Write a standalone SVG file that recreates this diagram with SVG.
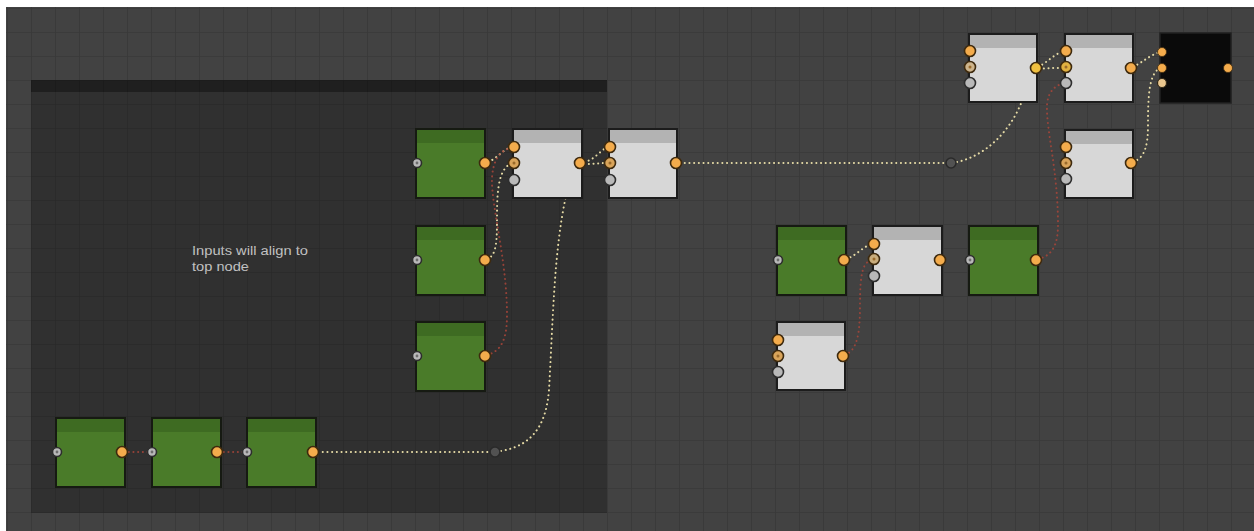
<svg xmlns="http://www.w3.org/2000/svg" width="1254" height="531" viewBox="0 0 1254 531">
  <defs>
    <pattern id="grid" x="7" y="8" width="24" height="24" patternUnits="userSpaceOnUse">
      <path d="M0,0 H24 M0,0 V24" fill="none" stroke="#000" stroke-opacity="0.14" stroke-width="1.6"/>
    </pattern>
    <style>
      .canvas { fill: #424242; }
      .frame-body { fill: #303030; }
      .frame-head { fill: #1f1f1f; }
      .note { font-family: "Liberation Sans", Arial, sans-serif; font-size: 13px; fill: #c2c2c2; }
      .wire { fill: none; stroke-width: 2; stroke-linecap: round; stroke-dasharray: 0.1 4.6; }
      .cream { stroke: #e6dba6; }
      .red { stroke: #a8453a; stroke-opacity: 0.85; }
      .green .body { fill: #4a7b29; stroke: #161a12; stroke-width: 2; }
      .green .head { fill: #3e6b22; }
      .light .body { fill: #d7d7d7; stroke: #1c1c1c; stroke-width: 2; }
      .light .head { fill: #b3b3b3; }
      .dark .body { fill: #0a0a0a; stroke: #222; stroke-width: 1.5; }
      .p-out { fill: #f4ac4c; stroke: #3e2a0e; stroke-width: 1.6; }
      .p-mid { fill: #d9a45a; stroke: #3e2a0e; stroke-width: 1.6; }
      .p-in { fill: #b9b9b9; stroke: #2e2e2e; stroke-width: 1.6; }
      .p-pale { fill: #e9c68e; stroke: #2e2616; stroke-width: 1.2; }
      .pip { fill: #6e6e6e; }
      .pip-o { fill: #9a6a2a; }
      .reroute { fill: #525252; stroke: #2a2a2a; stroke-width: 1.6; }
    </style>
  </defs>

  <!-- page edge and canvas -->
  <rect x="0" y="0" width="1254" height="531" fill="#ffffff"/>
  <rect class="canvas" x="6" y="7" width="1248" height="524"/>

  <!-- comment frame -->
  <g id="frame">
    <rect class="frame-body" x="31" y="80" width="576" height="433"/>
    <rect class="frame-head" x="31" y="80" width="576" height="12"/>
    <text class="note" x="192" y="255" textLength="116" lengthAdjust="spacingAndGlyphs">Inputs will align to</text>
    <text class="note" x="192" y="271" textLength="57" lengthAdjust="spacingAndGlyphs">top node</text>
  </g>

  <rect x="6" y="7" width="1248" height="524" fill="url(#grid)"/>

  <!-- connectors -->
  <g id="connectors">
    <!-- bottom chain -->
    <path class="wire red" d="M124,452 H149"/>
    <path class="wire red" d="M219,452 H244"/>
    <path class="wire cream" d="M318,452 H489"/>
    <path class="wire cream" d="M501,451 C530,446 546,428 549,390 C553,320 554,250 566,196"/>
    <circle id="reroute-a" class="reroute" cx="495" cy="452" r="5"/>

    <!-- left column into first mixer -->
    <path class="wire cream" d="M488,162 C498,158 503,149 512,147"/>
    <path class="wire cream" d="M487,259 C497,256 497,240 497,215 C497,185 500,168 512,163"/>
    <path class="wire red" d="M487,355 C502,351 507,338 507,315 C507,260 491,205 492,178 C493,160 500,150 511,148"/>

    <!-- mixer to mixer -->
    <path class="wire cream" d="M584,162 C595,160 600,150 608,147"/>
    <path class="wire cream" d="M584,164 C594,164 600,163 607,163"/>

    <!-- long run to the top-right group -->
    <path class="wire cream" d="M680,163 H944"/>
    <path class="wire cream" d="M957,162 C985,156 1010,132 1022,101"/>
    <circle id="reroute-b" class="reroute" cx="951" cy="163" r="5"/>

    <!-- top-right chain -->
    <path class="wire cream" d="M1038,67 C1048,62 1054,54 1064,51"/>
    <path class="wire cream" d="M1039,69 C1048,68 1056,68 1064,68"/>
    <path class="wire cream" d="M1133,67 C1143,62 1150,55 1160,52"/>
    <path class="wire cream" d="M1133,162 C1145,158 1148,145 1148,125 C1148,95 1149,74 1160,68"/>
    <path class="wire red" d="M1038,259 C1052,256 1058,245 1058,225 C1058,170 1046,130 1047,105 C1048,92 1054,86 1064,83"/>

    <!-- middle-right group -->
    <path class="wire cream" d="M846,259 C856,256 862,247 872,244"/>
    <path class="wire red" d="M845,355 C857,350 860,335 860,305 C860,272 863,262 872,260"/>
  </g>

  <!-- left column -->
  <g id="g-left-1" class="green">
    <rect class="body" x="416" y="129" width="69" height="69"/>
    <rect class="head" x="417" y="130" width="67" height="13"/>
    <circle class="p-in" cx="417" cy="163" r="4.5"/><circle class="pip" cx="417" cy="163" r="1.4"/>
    <circle class="p-out" cx="485" cy="163" r="5.5"/>
  </g>
  <g id="g-left-2" class="green">
    <rect class="body" x="416" y="226" width="69" height="69"/>
    <rect class="head" x="417" y="227" width="67" height="13"/>
    <circle class="p-in" cx="417" cy="260" r="4.5"/><circle class="pip" cx="417" cy="260" r="1.4"/>
    <circle class="p-out" cx="485" cy="260" r="5.5"/>
  </g>
  <g id="g-left-3" class="green">
    <rect class="body" x="416" y="322" width="69" height="69"/>
    <rect class="head" x="417" y="323" width="67" height="13"/>
    <circle class="p-in" cx="417" cy="356" r="4.5"/><circle class="pip" cx="417" cy="356" r="1.4"/>
    <circle class="p-out" cx="485" cy="356" r="5.5"/>
  </g>

  <!-- bottom row -->
  <g id="g-bottom-1" class="green">
    <rect class="body" x="56" y="418" width="69" height="69"/>
    <rect class="head" x="57" y="419" width="67" height="13"/>
    <circle class="p-in" cx="57" cy="452" r="4.5"/><circle class="pip" cx="57" cy="452" r="1.4"/>
    <circle class="p-out" cx="122" cy="452" r="5.5"/>
  </g>
  <g id="g-bottom-2" class="green">
    <rect class="body" x="152" y="418" width="69" height="69"/>
    <rect class="head" x="153" y="419" width="67" height="13"/>
    <circle class="p-in" cx="152" cy="452" r="4.5"/><circle class="pip" cx="152" cy="452" r="1.4"/>
    <circle class="p-out" cx="217" cy="452" r="5.5"/>
  </g>
  <g id="g-bottom-3" class="green">
    <rect class="body" x="247" y="418" width="69" height="69"/>
    <rect class="head" x="248" y="419" width="67" height="13"/>
    <circle class="p-in" cx="247" cy="452" r="4.5"/><circle class="pip" cx="247" cy="452" r="1.4"/>
    <circle class="p-out" cx="313" cy="452" r="5.5"/>
  </g>

  <!-- mixers -->
  <g id="mix-1" class="light">
    <rect class="body" x="513" y="129" width="69" height="69"/>
    <rect class="head" x="514" y="130" width="67" height="13"/>
    <circle class="p-out" cx="514" cy="147" r="5.5"/>
    <circle class="p-mid" cx="514" cy="163" r="5.5"/><circle class="pip-o" cx="514" cy="163" r="1.5"/>
    <circle class="p-in" cx="514" cy="180" r="5.5"/>
    <circle class="p-out" cx="580" cy="163" r="5.5"/>
  </g>
  <g id="mix-2" class="light">
    <rect class="body" x="609" y="129" width="68" height="69"/>
    <rect class="head" x="610" y="130" width="66" height="13"/>
    <circle class="p-out" cx="610" cy="147" r="5.5"/>
    <circle class="p-mid" cx="610" cy="163" r="5.5"/><circle class="pip-o" cx="610" cy="163" r="1.5"/>
    <circle class="p-in" cx="610" cy="180" r="5.5"/>
    <circle class="p-out" cx="676" cy="163" r="5.5"/>
  </g>

  <!-- top-right group -->
  <g id="mix-top-a" class="light">
    <rect class="body" x="969" y="34" width="68" height="68"/>
    <rect class="head" x="970" y="35" width="66" height="13"/>
    <circle class="p-out" cx="970" cy="51" r="5.5"/>
    <circle class="p-mid" cx="970" cy="67" r="5.5" style="fill:#cdb48c"/><circle class="pip-o" cx="970" cy="67" r="1.5"/>
    <circle class="p-in" cx="970" cy="83" r="5.5"/>
    <circle class="p-out" cx="1036" cy="68" r="5.5" style="fill:#f0c040"/>
  </g>
  <g id="mix-top-b" class="light">
    <rect class="body" x="1065" y="34" width="68" height="68"/>
    <rect class="head" x="1066" y="35" width="66" height="13"/>
    <circle class="p-out" cx="1066" cy="51" r="5.5"/>
    <circle class="p-mid" cx="1066" cy="67" r="5.5" style="fill:#e0b040"/><circle class="pip-o" cx="1066" cy="67" r="1.5"/>
    <circle class="p-in" cx="1066" cy="83" r="5.5"/>
    <circle class="p-out" cx="1131" cy="68" r="5.5"/>
  </g>
  <g id="output" class="dark">
    <rect class="body" x="1160" y="33" width="71" height="70"/>
    <circle class="p-out" cx="1162" cy="52" r="4.5" style="stroke-width:0.8"/>
    <circle class="p-out" cx="1162" cy="68" r="4.5" style="stroke-width:0.8"/>
    <circle class="p-pale" cx="1162" cy="83" r="4.5"/>
    <circle class="p-out" cx="1228" cy="68" r="4.5" style="stroke-width:0.8"/>
  </g>
  <g id="mix-top-d" class="light">
    <rect class="body" x="1065" y="130" width="68" height="68"/>
    <rect class="head" x="1066" y="131" width="66" height="13"/>
    <circle class="p-out" cx="1066" cy="147" r="5.5"/>
    <circle class="p-mid" cx="1066" cy="163" r="5.5"/><circle class="pip-o" cx="1066" cy="163" r="1.5"/>
    <circle class="p-in" cx="1066" cy="179" r="5.5"/>
    <circle class="p-out" cx="1131" cy="163" r="5.5"/>
  </g>

  <!-- middle-right group -->
  <g id="g-mid-1" class="green">
    <rect class="body" x="777" y="226" width="69" height="69"/>
    <rect class="head" x="778" y="227" width="67" height="13"/>
    <circle class="p-in" cx="778" cy="260" r="4.5"/><circle class="pip" cx="778" cy="260" r="1.4"/>
    <circle class="p-out" cx="844" cy="260" r="5.5"/>
  </g>
  <g id="mix-mid" class="light">
    <rect class="body" x="873" y="226" width="69" height="69"/>
    <rect class="head" x="874" y="227" width="67" height="13"/>
    <circle class="p-out" cx="874" cy="244" r="5.5"/>
    <circle class="p-mid" cx="874" cy="259" r="5.5" style="fill:#c8ac7c"/><circle class="pip-o" cx="874" cy="259" r="1.5"/>
    <circle class="p-in" cx="874" cy="276" r="5.5"/>
    <circle class="p-out" cx="940" cy="260" r="5.5"/>
  </g>
  <g id="g-mid-2" class="green">
    <rect class="body" x="969" y="226" width="69" height="69"/>
    <rect class="head" x="970" y="227" width="67" height="13"/>
    <circle class="p-in" cx="970" cy="260" r="4.5"/><circle class="pip" cx="970" cy="260" r="1.4"/>
    <circle class="p-out" cx="1036" cy="260" r="5.5"/>
  </g>
  <g id="mix-low" class="light">
    <rect class="body" x="777" y="322" width="68" height="68"/>
    <rect class="head" x="778" y="323" width="66" height="13"/>
    <circle class="p-out" cx="778" cy="340" r="5.5"/>
    <circle class="p-mid" cx="778" cy="356" r="5.5"/><circle class="pip-o" cx="778" cy="356" r="1.5"/>
    <circle class="p-in" cx="778" cy="372" r="5.5"/>
    <circle class="p-out" cx="843" cy="356" r="5.5"/>
  </g>
</svg>
